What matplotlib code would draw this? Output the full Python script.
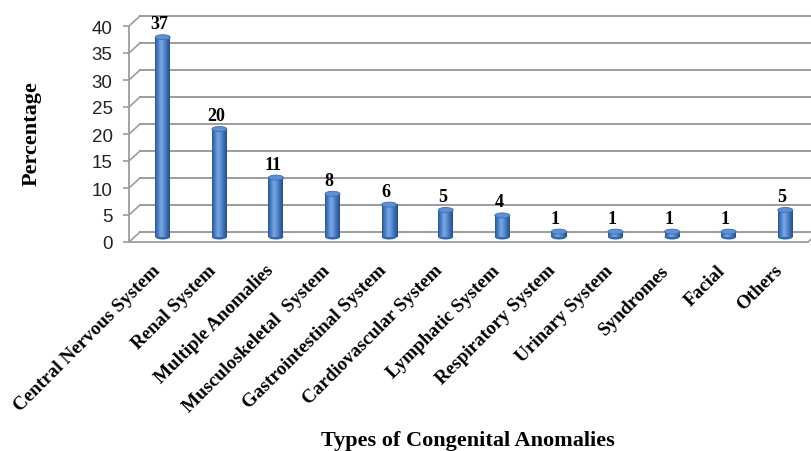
import numpy as np
import matplotlib
matplotlib.use('Agg')
import matplotlib.pyplot as plt
import matplotlib.transforms as mtransforms
from matplotlib.patches import Ellipse
from matplotlib.colors import LinearSegmentedColormap

# data
categories = ['Central Nervous System', 'Renal System', 'Multiple Anomalies',
              'Musculoskeletal  System', 'Gastrointestinal System',
              'Cardiovascular System', 'Lymphatic System', 'Respiratory System',
              'Urinary System', 'Syndromes', 'Facial', 'Others']
percent = [37, 20, 11, 8, 6, 5, 4, 1, 1, 1, 1, 5]
y_ticks = [0, 5, 10, 15, 20, 25, 30, 35, 40]

DPI = 100
W, H = 811, 452
fig = plt.figure(figsize=(W / DPI, H / DPI), dpi=DPI)

# front plane of the pseudo 3d box (pixel layout)
left_px, right_px, bot_px, top_px = 129, 808, 243, 27
ax = fig.add_axes([left_px / W, (H - bot_px) / H,
                   (right_px - left_px) / W, (bot_px - top_px) / H])
ax.set_xlim(-0.5, 11.5)
ax.set_ylim(0, 40)

# depth offset in data units (11px right, 10px up)
px_x = (right_px - left_px) / 12.0
px_y = (bot_px - top_px) / 40.0
dx = 11 / px_x
dy = 10 / px_y

grid_c = '#9c9c9c'
# back wall grid + diagonals
for v in y_ticks:
    ax.plot([-0.5 + dx, 11.5 + dx + 1], [v + dy, v + dy], color=grid_c, lw=1.4,
            clip_on=False, zorder=1)
    ax.plot([-0.5, -0.5 + dx], [v, v + dy], color=grid_c, lw=1.2,
            clip_on=False, zorder=1)
ax.plot([11.5, 11.5 + dx], [0, dy], color=grid_c, lw=1.2, clip_on=False, zorder=1)

# cylinder bars
cmap = LinearSegmentedColormap.from_list(
    'cyl', ['#2b5896', '#4a7fc6', '#7aaae4', '#5b8fd2', '#3a6bb0', '#24508c'])
grad = np.linspace(0, 1, 64).reshape(1, -1)
bw = 15 / px_x
cap_h = 5 / px_y
for i, v in enumerate(percent):
    xc = i + dx / 2
    y0 = dy / 2
    y1 = v + dy / 2
    ax.imshow(grad, cmap=cmap, aspect='auto',
              extent=[xc - bw / 2, xc + bw / 2, y0, y1],
              zorder=3, clip_on=False, interpolation='bilinear')
    ax.add_patch(Ellipse((xc, y0), bw, cap_h, facecolor='#3567aa',
                         edgecolor='none', zorder=2.9, clip_on=False))
    ax.add_patch(Ellipse((xc, y1), bw, cap_h, facecolor='#5d90d4',
                         edgecolor='#3e6fb3', lw=0.6, zorder=3.1, clip_on=False))
    ax.text(xc - 0.06, y1 + 9 / px_y, str(v), ha='center', va='baseline',
            fontsize=13, fontweight='bold', family='Liberation Serif',
            color='black', zorder=4, clip_on=False)

ax.set_xlim(-0.5, 11.5)
ax.set_ylim(0, 40)

for s in ['top', 'right']:
    ax.spines[s].set_visible(False)
for s in ['left', 'bottom']:
    ax.spines[s].set_color(grid_c)
    ax.spines[s].set_linewidth(1.3)

ax.set_yticks(y_ticks)
ax.set_yticklabels([str(t) for t in y_ticks], family='Liberation Sans',
                   fontsize=13.5, color='#222222')
ax.tick_params(axis='y', length=4.3, width=1.2, color=grid_c, pad=7.5)

ax.set_xticks(range(len(categories)))
ax.set_xticklabels(categories, rotation=45, ha='right', va='top',
                   rotation_mode='anchor', family='Liberation Serif',
                   fontweight='bold', fontsize=13.8)
ax.tick_params(axis='x', length=0, pad=14)
shift = mtransforms.ScaledTranslation(-6 / DPI, 0, fig.dpi_scale_trans)
for lbl in ax.get_xticklabels():
    lbl.set_transform(lbl.get_transform() + shift)

fig.text(32 / W, 1 - 134 / H, 'Percentage', rotation=90, ha='center',
         va='center', family='Liberation Serif', fontweight='bold', fontsize=16)
fig.text(468 / W, 1 - 441 / H, 'Types of Congenital Anomalies', ha='center',
         va='center', family='Liberation Serif', fontweight='bold', fontsize=16)

fig.savefig('out.png', dpi=DPI)
